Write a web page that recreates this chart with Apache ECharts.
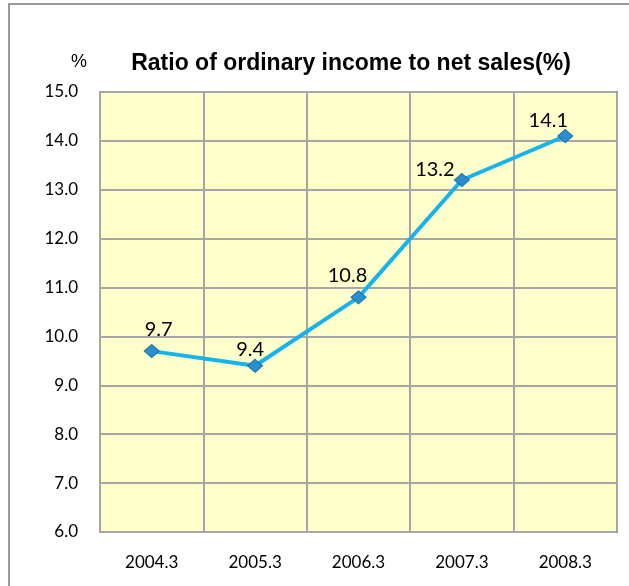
<!DOCTYPE html>
<html>
<head>
<meta charset="utf-8">
<script src="https://cdn.jsdelivr.net/npm/echarts@6/dist/echarts.min.js"></script>
<style>
html,body{margin:0;padding:0;background:#fff;}
#box{width:629px;height:586px;}
</style>
</head>
<body>
<div id="box"></div>
<script>
var years = ['2004.3', '2005.3', '2006.3', '2007.3', '2008.3'];
var ratio = [9.7, 9.4, 10.8, 13.2, 14.1];

// where each value label sits, relative to its point (px)
var labelShift = [[7, -22], [-5, -16], [-11, -22], [-27, -10], [-17, -15]];

var myChart = echarts.init(document.getElementById('box'));

var option = {
    animation: false,
    backgroundColor: '#fff',
    title: {
        text: 'Ratio of ordinary income to net sales(%)',
        left: 346,
        top: 47,
        textAlign: 'center',
        textStyle: {fontFamily: 'Liberation Sans', fontSize: 23, fontWeight: 'bold', color: '#000'}
    },
    graphic: [
        {
            type: 'rect',
            shape: {x: 9, y: 4, width: 640, height: 600},
            style: {fill: 'none', stroke: '#9a9a9a', lineWidth: 2},
            silent: true
        },
        {
            type: 'text',
            left: 71,
            top: 53,
            style: {text: '%', fontFamily: 'Liberation Sans', fontSize: 18, fill: '#000'}
        }
    ],
    grid: {
        left: 100,
        right: 12,
        top: 92,
        bottom: 54,
        show: true,
        backgroundColor: '#ffffcc',
        borderColor: '#8c8c8c',
        borderWidth: 2
    },
    xAxis: {
        type: 'category',
        data: years,
        axisLine: {show: false},
        axisTick: {show: false},
        splitLine: {show: true, interval: 0, lineStyle: {color: '#a6a6a6', width: 2}},
        axisLabel: {margin: 22, fontFamily: 'Lato', fontSize: 17, color: '#000'}
    },
    yAxis: {
        type: 'value',
        min: 6,
        max: 15,
        interval: 1,
        axisLine: {show: false},
        axisTick: {show: false},
        splitLine: {lineStyle: {color: '#a6a6a6', width: 2}},
        axisLabel: {
            margin: 22,
            fontFamily: 'Lato',
            fontSize: 17,
            color: '#000',
            formatter: function (v) { return v.toFixed(1); }
        }
    },
    series: [{
        type: 'line',
        data: ratio.map(function (v, i) {
            return {value: v, label: {offset: labelShift[i]}};
        }),
        symbol: 'diamond',
        symbolSize: [15, 13],
        lineStyle: {color: '#17b4ec', width: 4},
        itemStyle: {color: '#2a8fcf', borderColor: '#1a6fa8', borderWidth: 1},
        label: {
            show: true,
            position: 'inside',
            fontFamily: 'Lato',
            fontSize: 20,
            color: '#000',
            formatter: function (p) { return p.value.toFixed(1); }
        }
    }]
};

myChart.setOption(option);
</script>
</body>
</html>
